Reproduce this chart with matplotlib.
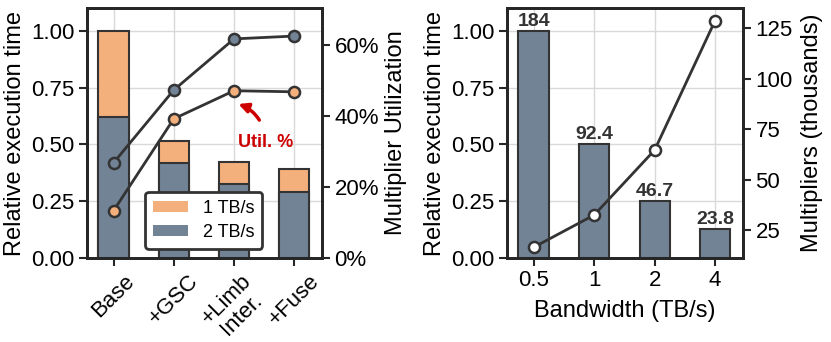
import matplotlib
matplotlib.use("Agg")
import matplotlib.pyplot as plt
import numpy as np
from matplotlib.ticker import FuncFormatter

plt.rcParams['font.family'] = ['Liberation Sans', 'DejaVu Sans']

# ---- data: left panel ----
stages = ["Base", "+GSC", "+Limb\nInter.", "+Fuse"]
time_2tbs = [0.62, 0.42, 0.326, 0.29]
time_1tbs = [1.00, 0.515, 0.422, 0.39]
util_2tbs = [26.8, 47.3, 61.7, 62.5]
util_1tbs = [13.3, 39.2, 47.1, 46.8]

# ---- data: right panel ----
bandwidth = ["0.5", "1", "2", "4"]
rel_time = [1.00, 0.50, 0.252, 0.127]
bar_labels = ["184", "92.4", "46.7", "23.8"]
multipliers = [16.4, 32.4, 64.6, 128.8]

C_DARK = "#738396"
C_ORANGE = "#F4B07C"
C_EDGE = "#333333"
TFS = 16   # tick labels
LFS = 17   # axis labels

fig = plt.figure(figsize=(8.31, 3.42), dpi=100)
ax1 = fig.add_axes([87/831, 1-258/342, (322-87)/831, 250/342])
ax3 = fig.add_axes([507/831, 1-258/342, (743-507)/831, 250/342])

def style_twin(ax):
    for s in ax.spines.values():
        s.set_linewidth(2)
        s.set_color("#262626")
    ax.tick_params(direction="out", length=6, width=1.5, color="#262626",
                   labelsize=TFS, pad=3)

def style(ax):
    style_twin(ax)
    ax.grid(True, color="#d9d9d9", lw=1)
    ax.set_axisbelow(True)

# ---- left panel ----
x = np.arange(len(stages))
style(ax1)
b1 = ax1.bar(x, time_1tbs, width=0.5, color=C_ORANGE, edgecolor=C_EDGE, lw=1.5, label="1 TB/s")
b2 = ax1.bar(x, time_2tbs, width=0.5, color=C_DARK, edgecolor=C_EDGE, lw=1.5, label="2 TB/s")
ax1.set_ylim(0, 1.1)
ax1.set_xlim(-0.44, 3.46)
ax1.set_yticks([0, 0.25, 0.5, 0.75, 1.0])
ax1.set_xticks(x)
ax1.set_xticklabels(stages, rotation=45, ha="center", fontsize=TFS, linespacing=1.0)
ax1.set_ylabel("Relative execution time", fontsize=LFS, labelpad=4)

ax2 = ax1.twinx()
style_twin(ax2)
ax2.plot(x, util_2tbs, "-o", color=C_EDGE, lw=2, ms=8, mfc=C_DARK, mec=C_EDGE, mew=1.8)
ax2.plot(x, util_1tbs, "-o", color=C_EDGE, lw=2, ms=8, mfc=C_ORANGE, mec=C_EDGE, mew=1.8)
ax2.set_ylim(0, 70.4)
ax2.set_yticks([0, 20, 40, 60])
ax2.yaxis.set_major_formatter(FuncFormatter(lambda v, p: f"{v:.0f}%"))
ax2.set_ylabel("Multiplier Utilization", fontsize=LFS, labelpad=4)

leg = ax2.legend([b1, b2], ["1 TB/s", "2 TB/s"], loc="lower left",
                 bbox_to_anchor=((145-87)/235, (258-249)/250), fontsize=13,
                 frameon=True, fancybox=True, edgecolor=C_EDGE, framealpha=1,
                 handlelength=1.95, handleheight=0.6, borderpad=0.45, labelspacing=0.4,
                 handletextpad=0.8, borderaxespad=0)
leg.get_frame().set_linewidth(2)
for h in leg.legend_handles:
    h.set_edgecolor("none")

ax2.annotate("Util. %", xy=(2.05, 43.5), xytext=(2.52, 32.4),
             color="#CC0000", fontsize=13, fontweight="bold", ha="center", va="center",
             arrowprops=dict(arrowstyle="-|>", color="#CC0000", lw=2.5,
                             connectionstyle="arc3,rad=0.35", shrinkA=9, shrinkB=1,
                             mutation_scale=14))

# ---- right panel ----
xb = np.arange(len(bandwidth))
style(ax3)
bars = ax3.bar(xb, rel_time, width=0.5, color=C_DARK, edgecolor=C_EDGE, lw=1.5)
for xi, v, lab in zip(xb, rel_time, bar_labels):
    ax3.text(xi, v + 0.005, lab, ha="center", va="bottom", fontsize=14,
             fontweight="bold", color="#333333")
ax3.set_ylim(0, 1.1)
ax3.set_xlim(-0.44, 3.46)
ax3.set_yticks([0, 0.25, 0.5, 0.75, 1.0])
ax3.set_xticks(xb)
ax3.set_xticklabels(bandwidth, fontsize=TFS)
ax3.set_ylabel("Relative execution time", fontsize=LFS, labelpad=4)
ax3.set_xlabel("Bandwidth (TB/s)", fontsize=LFS, labelpad=6)

ax4 = ax3.twinx()
style_twin(ax4)
ax4.plot(xb, multipliers, "-o", color=C_EDGE, lw=2, ms=8, mfc="white", mec=C_EDGE, mew=1.8)
ax4.set_ylim(11.1, 135)
ax4.set_yticks([25, 50, 75, 100, 125])
ax4.set_ylabel("Multipliers (thousands)", fontsize=LFS, labelpad=6)

fig.savefig("out.png", dpi=100)
